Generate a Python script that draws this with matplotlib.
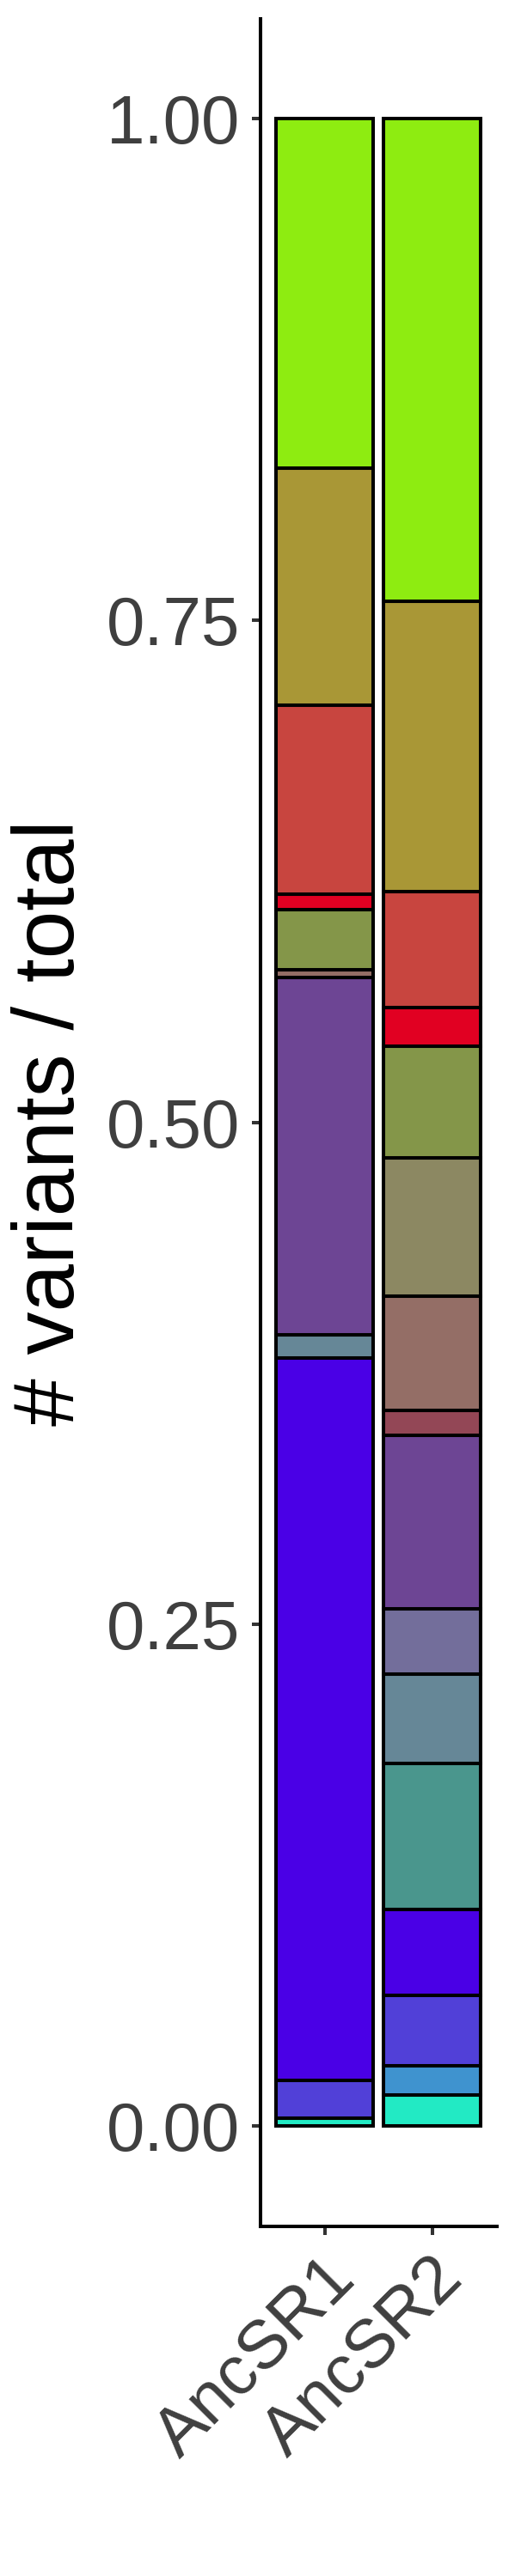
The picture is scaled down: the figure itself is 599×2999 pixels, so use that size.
import matplotlib
matplotlib.use("Agg")
import matplotlib.pyplot as plt
from matplotlib.transforms import ScaledTranslation
import numpy as np

# ---------------- data ----------------
samples = ["AncSR1", "AncSR2"]

# stacking order: bottom -> top
categories = ["var01", "var02", "var03", "var04", "var05", "var06", "var07", "var08",
              "var09", "var10", "var11", "var12", "var13", "var14", "var15", "var16"]

category_colors = ["#22EAC4", "#3F93CF", "#5140D8", "#4A00E6", "#4A968D", "#668797",
                   "#736E9B", "#6D4594", "#934756", "#946E66", "#8C8862", "#849649",
                   "#E10022", "#C8453F", "#A99736", "#8EEC11"]

ancsr1_values = [0.0040, 0.0000, 0.0188, 0.3600, 0.0000, 0.0113, 0.0000, 0.1780,
                 0.0000, 0.0040, 0.0000, 0.0300, 0.0077, 0.0940, 0.1180, 0.1742]

ancsr2_values = [0.0154, 0.0146, 0.0352, 0.0425, 0.0730, 0.0443, 0.0328, 0.0863,
                 0.0125, 0.0567, 0.0689, 0.0556, 0.0192, 0.0578, 0.1448, 0.2404]

y_ticks = [0.0, 0.25, 0.50, 0.75, 1.00]
y_tick_labels = ["0.00", "0.25", "0.50", "0.75", "1.00"]
y_title = "# variants / total"

# ---------------- style ----------------
plt.rcParams['font.family'] = ['Liberation Sans', 'DejaVu Sans']

W, H = 599, 2999
fig = plt.figure(figsize=(W / 100, H / 100), dpi=100)
ax = fig.add_axes([302.5 / W, (H - 2591.8) / H, 275 / W, 2570.3 / H])

values = np.array([ancsr1_values, ancsr2_values], dtype=float)
values = values / values.sum(axis=1, keepdims=True)   # position = "fill"
xpos = np.arange(1, len(samples) + 1)

bottoms = np.zeros(len(samples))
for j, (cat, col) in enumerate(zip(categories, category_colors)):
    h = values[:, j]
    m = h > 0
    ax.bar(xpos[m], h[m], bottom=bottoms[m], width=0.9, color=col,
           edgecolor="black", linewidth=2.9, label=cat)
    bottoms += h

ax.set_xlim(0.4, 2.6)
ax.set_ylim(-0.05, 1.05)

for s in ["top", "right"]:
    ax.spines[s].set_visible(False)
for s in ["left", "bottom"]:
    ax.spines[s].set_linewidth(2.9)
    ax.spines[s].set_color("black")
    ax.spines[s].set_capstyle("projecting")

ax.set_yticks(y_ticks)
ax.set_yticklabels(y_tick_labels)
ax.set_xticks(xpos)
ax.set_xticklabels(samples)

ax.tick_params(axis="both", length=7.5, width=2.9, color="#333333",
               labelcolor="#3F3F3F", labelsize=57.5)
ax.tick_params(axis="y", pad=9.5)
ax.tick_params(axis="x", pad=9)

offset = ScaledTranslation(-2 / 100, 0, fig.dpi_scale_trans)
for lab in ax.get_xticklabels():
    lab.set_rotation(45)
    lab.set_ha("right")
    lab.set_va("top")
    lab.set_rotation_mode("anchor")
    lab.set_transform(lab.get_transform() + offset)

fig.text(60 / W, (H - 1306.6) / H, y_title, rotation=90, ha="center", va="center",
         fontsize=72, color="black")

fig.savefig("out.png", dpi=100)
